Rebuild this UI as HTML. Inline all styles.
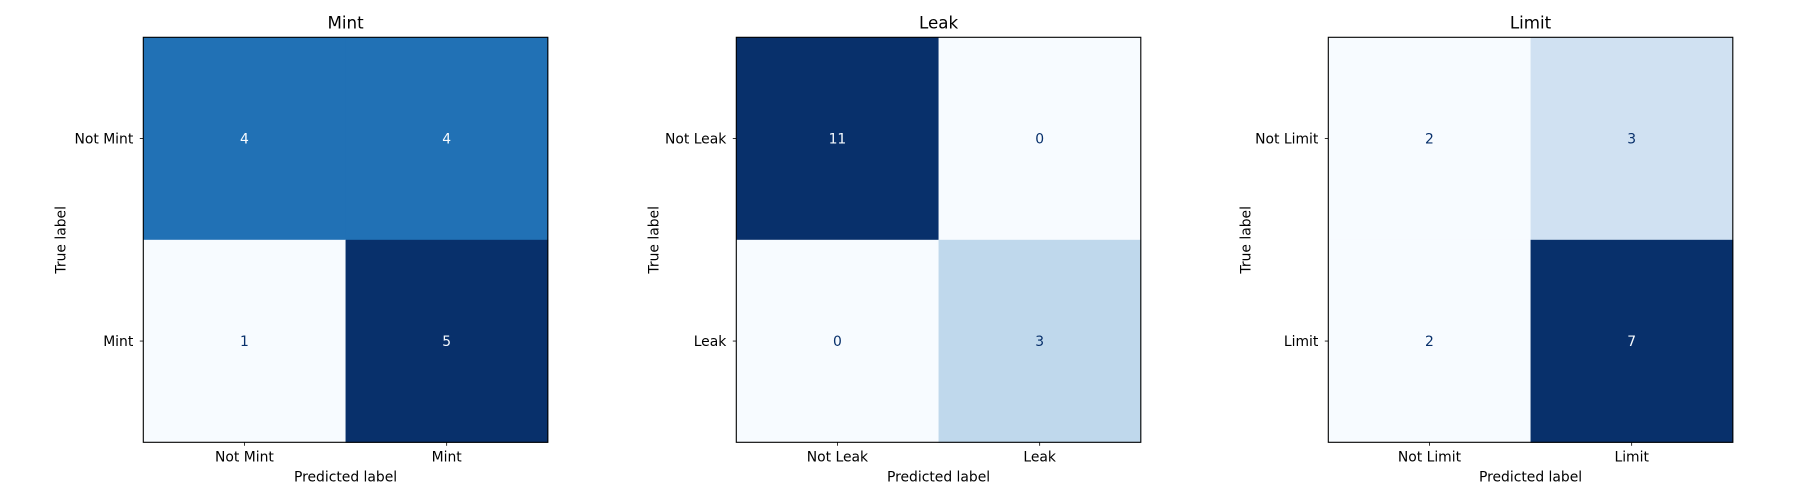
<!DOCTYPE html>
<html><head><meta charset="utf-8"><style>
html,body{margin:0;padding:0;background:#fff;width:1800px;height:500px;overflow:hidden}
svg{display:block;font-family:"DejaVu Sans","Liberation Sans",sans-serif}
</style></head><body>
<svg id="fig" width="1800" height="500" viewBox="0 0 1800 500"></svg>
<script>
const titles = ["Mint", "Leak", "Limit"];
const classLabels = [["Not Mint", "Mint"], ["Not Leak", "Leak"], ["Not Limit", "Limit"]];
const mintValues = [[4, 4], [1, 5]];
const leakValues = [[11, 0], [0, 3]];
const limitValues = [[2, 3], [2, 7]];
const matrices = [mintValues, leakValues, limitValues];

const NS = "http://www.w3.org/2000/svg";
const svg = document.getElementById("fig");
const blues = ["#f7fbff","#deebf7","#c6dbef","#9ecae1","#6baed6","#4292c6","#2171b5","#08519c","#08306b"];
function hex(h){return [1,3,5].map(i=>parseInt(h.substr(i,2),16));}
function cmap(t){
  t=Math.max(0,Math.min(1,t));
  const p=t*8, i=Math.min(7,Math.floor(p)), f=p-i;
  const a=hex(blues[i]), b=hex(blues[i+1]);
  return "rgb("+a.map((v,k)=>Math.round(v+(b[k]-v)*f)).join(",")+")";
}
function el(tag, attrs, parent){
  const e=document.createElementNS(NS,tag);
  for(const k in attrs) e.setAttribute(k,attrs[k]);
  (parent||svg).appendChild(e); return e;
}
const axLefts=[143.3,736.3,1328.3], axTop=37.3, axW=404.5, axH=405;
matrices.forEach((m,p)=>{
  const g=el("g",{});
  
  
  const L=axLefts[p], n=m.length, cw=axW/n, ch=axH/n;
  const flat=m.flat(), mn=Math.min(...flat), mx=Math.max(...flat);
  const thr=(mn+mx)/2;
  const xS=j=>L+cw*(j+0.5), yS=i=>axTop+ch*(i+0.5);
  for(let i=0;i<n;i++)for(let j=0;j<n;j++){
    const v=m[i][j], t=mx===mn?0:(v-mn)/(mx-mn);
    const r=el("rect",{x:xS(j)-cw/2,y:yS(i)-ch/2,width:cw+0.5,height:ch+0.5,fill:cmap(t)},g);
    
    
    const tx=el("text",{x:xS(j),y:yS(i)+5,"text-anchor":"middle","font-size":"13.9",fill:v>=thr?"#f7fbff":"#08306b"},g);
    tx.textContent=v;
    
    
  }
  const fr=el("rect",{x:L,y:axTop,width:axW,height:axH,fill:"none",stroke:"#000","stroke-width":"1.1"},g);
  
  
  for(let k=0;k<n;k++){
    el("line",{x1:xS(k),x2:xS(k),y1:axTop+axH,y2:axTop+axH+3.5,stroke:"#000","stroke-width":"0.8"},g);
    const xl=el("text",{x:xS(k),y:axTop+axH+19,"text-anchor":"middle","font-size":"13.9",fill:"#000"},g);
    xl.textContent=classLabels[p][k];
    
    
    el("line",{x1:L-3.5,x2:L,y1:yS(k),y2:yS(k),stroke:"#000","stroke-width":"0.8"},g);
    const yl=el("text",{x:L-10,y:yS(k)+5,"text-anchor":"end","font-size":"13.9",fill:"#000"},g);
    yl.textContent=classLabels[p][k];
    
    
  }
  const xt=el("text",{x:L+axW/2,y:axTop+axH+39,"text-anchor":"middle","font-size":"13.9",fill:"#000"},g);
  xt.textContent="Predicted label";
  
  
  const yx=L-78, yy=axTop+axH/2;
  const yt=el("text",{x:yx,y:yy,"text-anchor":"middle","font-size":"13.9",fill:"#000",transform:"rotate(-90 "+yx+" "+yy+")"},g);
  yt.textContent="True label";
  
  
  const tt=el("text",{x:L+axW/2,y:axTop-9,"text-anchor":"middle","font-size":"16.7",fill:"#000"},g);
  tt.textContent=titles[p];
  
  
});
</script>
</body></html>
